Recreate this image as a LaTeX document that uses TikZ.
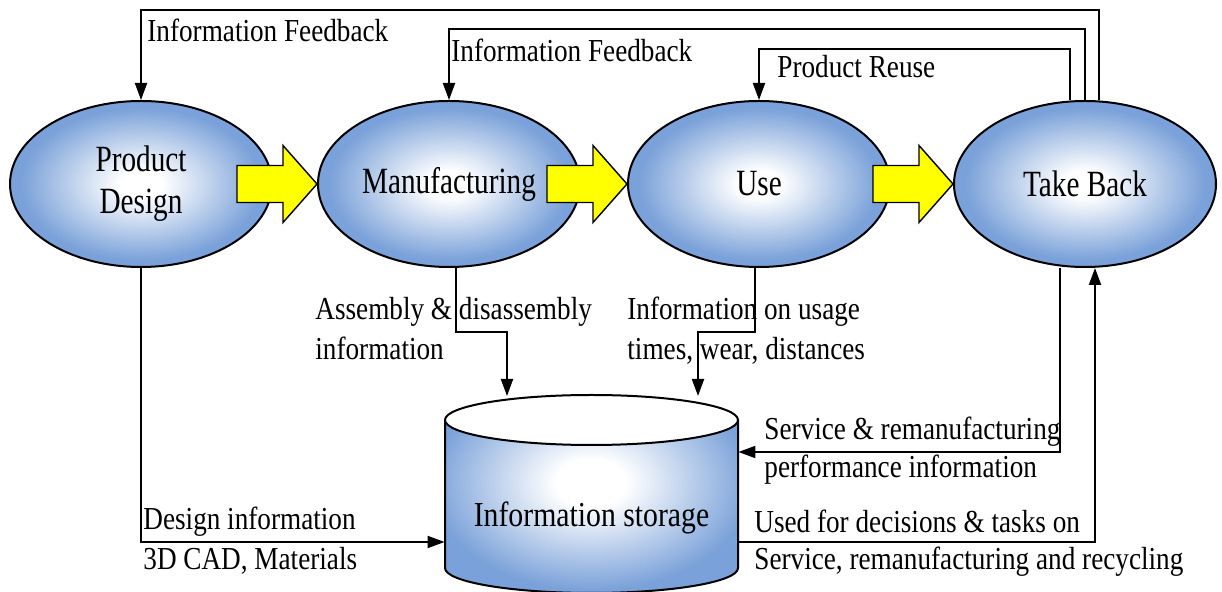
\documentclass[tikz,border=0pt]{standalone}
\usepackage{fontspec}
\setmainfont{Liberation Serif}[FakeStretch=0.85]
\newfontfamily\nodefont{Liberation Serif}[FakeStretch=0.79]
\usetikzlibrary{shapes.geometric,arrows.meta,calc}
\definecolor{ellblue}{RGB}{122,161,217}
\definecolor{arrowyellow}{RGB}{255,255,0}
\pgfdeclareradialshading{ellshade}{\pgfpoint{0bp}{0bp}}{color(0bp)=(white); color(4bp)=(white); color(23bp)=(ellblue); color(50bp)=(ellblue)}
\pgfdeclareradialshading{cylshade}{\pgfpoint{0bp}{0bp}}{color(0bp)=(white); color(5bp)=(white); color(23bp)=(ellblue); color(50bp)=(ellblue)}
\begin{document}
\begin{tikzpicture}[x=0.5pt,y=-0.5pt,
  phase/.style={ellipse, draw, line width=1pt, shade, shading=ellshade,
    minimum width=131pt, minimum height=83pt, inner sep=0pt,
    font=\nodefont\fontsize{18.5}{21}\selectfont, align=center},
  conn/.style={line width=1pt, -{Triangle[width=6pt,length=8.5pt]}},
  lbl/.style={anchor=base west, inner sep=0pt, font=\fontsize{16}{19}\selectfont},
  yarrow/.style={fill=arrowyellow, draw=black, line width=0.7pt, line join=miter}]
\useasboundingbox (0,0) rectangle (1222,592);

% phases
\node[phase] (pd) at (141,184) {Product\\Design};
\node[phase] (mfg) at (449,184) {Manufacturing};
\node[phase] (use) at (759,184) {Use};
\node[phase] (tb) at (1085,184) {Take Back};

% block arrows
\draw[yarrow] (mfg.west) -- ++(-34,-38.5) -- ++(0,20) -- ++(-46,0) -- ++(0,37) -- ++(46,0) -- ++(0,20) -- cycle;
\draw[yarrow] (use.west) -- ++(-34,-38.5) -- ++(0,20) -- ++(-46,0) -- ++(0,37) -- ++(46,0) -- ++(0,20) -- cycle;
\draw[yarrow] (tb.west) -- ++(-34,-38.5) -- ++(0,20) -- ++(-46,0) -- ++(0,37) -- ++(46,0) -- ++(0,20) -- cycle;

% information storage cylinder
\begin{scope}
  \clip (445,420) -- (445,568) arc[start angle=180, end angle=360, x radius=73.25pt, y radius=12.5pt] -- (738,420) -- cycle;
  \shade[shading=cylshade] (416,365) rectangle (766,600);
\end{scope}
\draw[line width=1pt] (445,420) -- (445,568) arc[start angle=180, end angle=360, x radius=73.25pt, y radius=12.5pt] -- (738,420);
\draw[line width=1pt, fill=white] (591.5,420) ellipse [x radius=73.25pt, y radius=12.5pt];
\node[minimum width=146.5pt, minimum height=74pt, inner sep=0pt] (store) at (591.5,494) {};
\node[anchor=base, inner sep=0pt, font=\fontsize{17.5}{21}\selectfont] (storelbl) at (591.5,527) {Information storage};
\coordinate (sttop) at (591.5,396);

% feedback loops
\coordinate (f1) at (1099,10);
\coordinate (f3) at (1085,29);
\coordinate (r1) at (1070,49);
\draw[conn] (tb.north -| f1) -- (f1) -- (f1 -| pd.north) -- (pd.north);
\draw[conn] (tb.north) -- (tb.north |- f3) -- (f3 -| mfg.north) -- (mfg.north);
\draw[conn] (tb.north -| r1) -- (r1) -- (r1 -| use.north) -- (use.north);

% flows to storage
\coordinate (d1) at (141,542);
\draw[conn] (pd.south) -- (d1) -- (d1 -| store.west);
\coordinate (m1) at (456,332);
\coordinate (m2) at (507,332);
\draw[conn] (mfg.south -| m1) -- (m1) -- (m2) -- (m2 |- sttop);
\coordinate (u1) at (755,332);
\coordinate (u2) at (698,332);
\draw[conn] (use.south -| u1) -- (u1) -- (u2) -- (u2 |- sttop);
\coordinate (t1) at (1060,452);
\draw[conn] (tb.south -| t1) -- (t1) -- (t1 -| store.east);
\coordinate (t2) at (1095,542);
\draw[conn] (store.east |- t2) -- (t2) -- (t2 |- tb.south);

% labels
\node[lbl] (l1) at (147,42) {Information Feedback};
\node[lbl] (l2) at (451,62) {Information Feedback};
\node[lbl] (l3) at (777,78) {Product Reuse};
\node[lbl] (l4) at (315,320) {Assembly \& disassembly};
\node[lbl] (l5) at (315,360) {information};
\node[lbl] (l6) at (627,320) {Information on usage};
\node[lbl] (l7) at (627,360) {times, wear, distances};
\node[lbl] (l8) at (764,440) {Service \& remanufacturing};
\node[lbl] (l9) at (764,478) {performance information};
\node[lbl] (l10) at (754,533) {Used for decisions \& tasks on};
\node[lbl] (l11) at (754,570) {Service, remanufacturing and recycling};
\node[lbl] (l12) at (143,530) {Design information};
\node[lbl] (l13) at (143,570) {3D CAD, Materials};
\end{tikzpicture}
\end{document}
